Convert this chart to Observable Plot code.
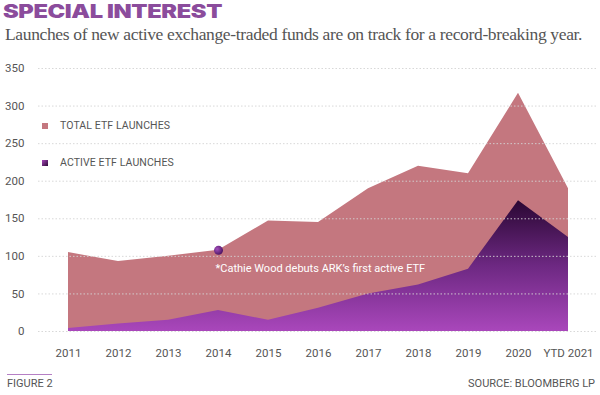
<!DOCTYPE html>
<html><head><meta charset="utf-8">
<script src="https://cdn.jsdelivr.net/npm/d3@7"></script>
<script src="https://cdn.jsdelivr.net/npm/@observablehq/plot@0.6"></script>
<style>
body{margin:0;background:#fff;}
#wrap{position:relative;width:600px;height:395px;overflow:hidden;font-family:Roboto,"Noto Sans",sans-serif;}
#title{position:absolute;left:3px;top:0px;font-family:Inter,sans-serif;font-weight:900;font-size:18.5px;letter-spacing:-0.3px;color:#8b4c9c;white-space:nowrap;transform-origin:0 0;display:inline-block;}
#sub{position:absolute;left:5px;top:24px;font-family:"Liberation Serif",serif;font-size:17.5px;color:#555;letter-spacing:-0.35px;white-space:nowrap;}
#chart{position:absolute;left:0;top:50px;}
.leg{position:absolute;left:42px;font-size:10.5px;color:#555;display:flex;align-items:center;letter-spacing:0.1px}
.sw{width:6px;height:6px;margin-right:12px;}
#fig{position:absolute;left:7px;top:374px;font-size:11px;color:#555;border-top:1.5px solid #b57fc4;padding-top:2px;width:45px;white-space:nowrap;}
#src{position:absolute;right:5px;top:377px;font-size:11px;color:#555;}
</style></head><body>
<div id="wrap">
<div id="title">SPECIAL INTEREST</div>
<div id="sub">Launches of new active exchange-traded funds are on track for a record-breaking year.</div>
<div id="chart"></div>
<div class="leg" style="top:119px"><div class="sw" style="background:#c4777f"></div>TOTAL ETF LAUNCHES</div>
<div class="leg" style="top:156px"><div class="sw" style="background:linear-gradient(135deg,#a545b8,#2d0a37)"></div>ACTIVE ETF LAUNCHES</div>
<div id="fig">FIGURE 2</div>
<div id="src">SOURCE: BLOOMBERG LP</div>
</div>
<script>
const years = ["2011","2012","2013","2014","2015","2016","2017","2018","2019","2020","YTD 2021"];
const total = [105, 93, 100, 108, 147, 145, 190, 220, 210, 317, 190];
const active = [4, 10, 15, 28, 15, 31, 50, 62, 83, 174, 125];
const yTicks = [0, 50, 100, 150, 200, 250, 300, 350];
const noteYear = "2014";
const noteText = "*Cathie Wood debuts ARK\u2019s first active ETF";

const data = years.map((y, i) => ({year: y, total: total[i], active: active[i]}));
const note = data.filter(d => d.year === noteYear);

const t = document.getElementById("title");
t.style.transform = `scaleX(${219 / t.getBoundingClientRect().width})`;

const defs = () => {
  const d = d3.create("svg:defs");
  const g = d.append("linearGradient").attr("id", "actGrad").attr("x1", 0).attr("y1", 0).attr("x2", 0).attr("y2", 1);
  g.append("stop").attr("offset", "0%").attr("stop-color", "#2a0733");
  g.append("stop").attr("offset", "50%").attr("stop-color", "#6d2882");
  g.append("stop").attr("offset", "100%").attr("stop-color", "#a947bb");
  const r = d.append("radialGradient").attr("id", "dotGrad").attr("cx", "35%").attr("cy", "35%").attr("r", "70%");
  r.append("stop").attr("offset", "0%").attr("stop-color", "#a44fbd");
  r.append("stop").attr("offset", "100%").attr("stop-color", "#4a1260");
  return d.node();
};

const chart = Plot.plot({
  width: 600,
  height: 312,
  marginTop: 18,
  marginLeft: 38,
  marginRight: 2,
  marginBottom: 31,
  style: {fontFamily: "Roboto, sans-serif", fontSize: "11.5px", color: "#555", background: "transparent"},
  x: {type: "point", domain: years, padding: 0.5, label: null, tickSize: 0, tickPadding: 17},
  y: {domain: [0, 350], ticks: yTicks, label: null, tickSize: 0, tickPadding: 14},
  marks: [
    defs,
    Plot.areaY(data, {x: "year", y: "total", fill: "#c4777f"}),
    Plot.areaY(data, {x: "year", y: "active", fill: "url(#actGrad)"}),
    Plot.gridY(yTicks, {stroke: "#d4d4d4", strokeOpacity: 0.9, strokeDasharray: "1.5,2"}),
    Plot.dot(note, {x: "year", y: "total", r: 4.5, fill: "url(#dotGrad)"}),
    Plot.text(note, {x: "year", y: "total", text: () => noteText, dy: 18, dx: -3, textAnchor: "start", fill: "#fff", fontSize: 11, style: "letter-spacing:0.4px"})
  ]
});
document.getElementById("chart").appendChild(chart);
</script>
</body></html>
